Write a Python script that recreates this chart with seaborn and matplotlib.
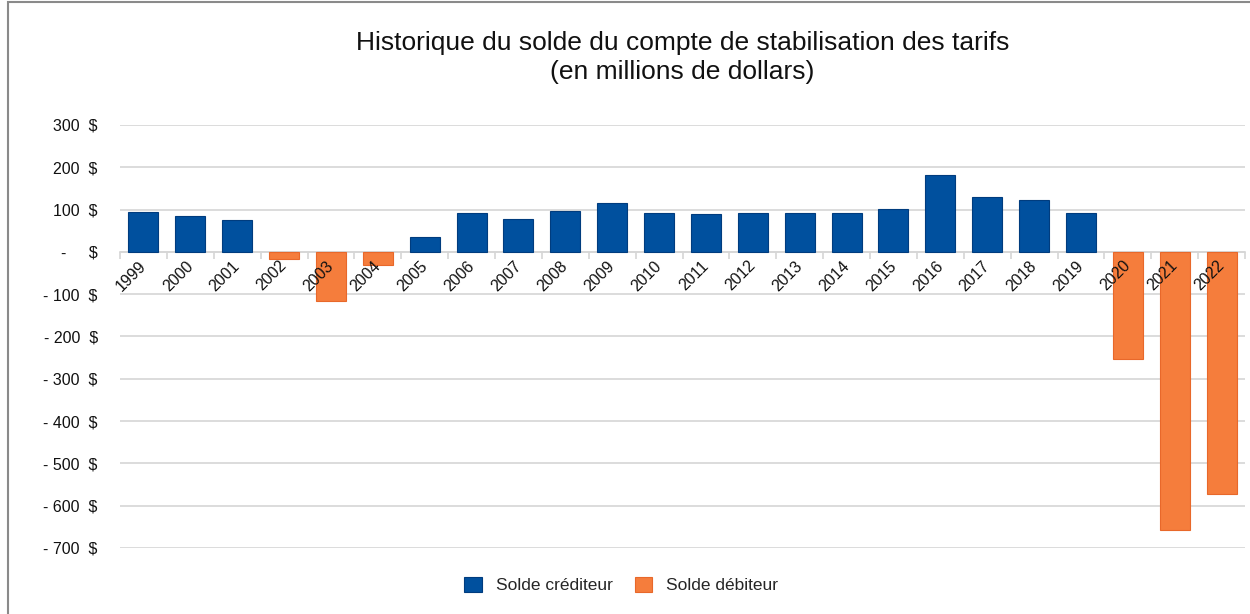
import pandas as pd
import matplotlib
matplotlib.use("Agg")
import matplotlib.pyplot as plt
import matplotlib.transforms as mtransforms
import seaborn as sns
from matplotlib.patches import Rectangle
from matplotlib.ticker import FixedLocator

# -----------------------
# Data (millions de dollars)
# -----------------------
years = [str(y) for y in range(1999, 2023)]
balances = [95, 84, 76, -18, -115, -31, 36, 91, 77, 97, 116, 91, 89, 91,
            91, 91, 101, 181, 129, 122, 91, -253, -657, -573]
series_names = ["Solde créditeur", "Solde débiteur"]
series_colors = ["#00509E", "#F57D3C"]
edge_colors = ["#003C7E", "#E8682A"]
y_ticks = [300, 200, 100, 0, -100, -200, -300, -400, -500, -600, -700]
title_lines = ["Historique du solde du compte de stabilisation des tarifs",
               "(en millions de dollars)"]

df = pd.DataFrame({"year": years, "value": balances})
df["type"] = df["value"].apply(lambda v: series_names[0] if v >= 0 else series_names[1])

sns.set_theme(style="white")
plt.rcParams["font.family"] = ["Liberation Sans", "DejaVu Sans"]

fig = plt.figure(figsize=(12.5, 6.14), dpi=100)
ax = fig.add_axes([0.096, 0.1075, 0.9, 0.689])

sns.barplot(
    data=df, x="year", y="value", hue="type",
    hue_order=series_names, palette=series_colors,
    dodge=False, width=0.64, ax=ax, legend=True, saturation=1
)

for bar in ax.patches:
    fc = bar.get_facecolor()
    bar.set_edgecolor(edge_colors[0] if fc[0] < 0.5 else edge_colors[1])
    bar.set_linewidth(0.8)

# -----------------------
# Axes
# -----------------------
ax.set_ylim(-700, 300)
ax.set_xlim(-0.5, len(years) - 0.5)
ax.set_yticks(y_ticks)
ax.set_yticklabels([f"{v}  $" if v > 0 else ("-     $" if v == 0 else f"- {abs(v)}  $")
                    for v in y_ticks], fontsize=11.5, color="#111111")
ax.yaxis.grid(True, color="#D6D6D6", linewidth=1.2)
ax.set_axisbelow(True)
ax.tick_params(axis="y", length=0, pad=16)

for s in ["left", "right", "top"]:
    ax.spines[s].set_visible(False)
ax.spines["bottom"].set_position(("data", 0))
ax.spines["bottom"].set_color("#D6D6D6")
ax.spines["bottom"].set_linewidth(1.2)
ax.spines["bottom"].set_zorder(0.6)

ax.set_xticks(range(len(years)))
ax.set_xticklabels(years, rotation=45, ha="right", rotation_mode="anchor",
                   fontsize=11.5, color="#111111")
ax.tick_params(axis="x", which="major", length=0, pad=3)
ax.xaxis.set_minor_locator(FixedLocator([i - 0.5 for i in range(len(years) + 1)]))
ax.tick_params(axis="x", which="minor", length=5, color="#D6D6D6", width=1.2, bottom=True)
for lbl in ax.get_xticklabels():
    lbl.set_transform(lbl.get_transform() + mtransforms.ScaledTranslation(-0.05, -0.02, fig.dpi_scale_trans))
ax.xaxis.set_zorder(5)

ax.set_xlabel("")
ax.set_ylabel("")

# -----------------------
# Title
# -----------------------
cx = 0.096 + 0.45
fig.text(cx, 1 - 43 / 614, title_lines[0], ha="center", va="center", fontsize=19, color="#111111")
fig.text(cx, 1 - 72 / 614, title_lines[1], ha="center", va="center", fontsize=19, color="#111111")

# -----------------------
# Legend
# -----------------------
handles, labels = ax.get_legend_handles_labels()
ax.get_legend().remove()
fig.legend(handles, labels, loc="center", bbox_to_anchor=(0.497, 0.047), ncol=2,
           frameon=False, fontsize=12.5, handlelength=1.0, handleheight=1.0,
           columnspacing=1.3, handletextpad=0.8)

# frame
fig.patches.append(Rectangle((8 / 1250, -0.01), 1.1, 1.0 - 1.5 / 614 + 0.01,
                             transform=fig.transFigure, fill=False,
                             edgecolor="#8A8A8A", linewidth=1.5))

fig.savefig("out.png", dpi=100)
